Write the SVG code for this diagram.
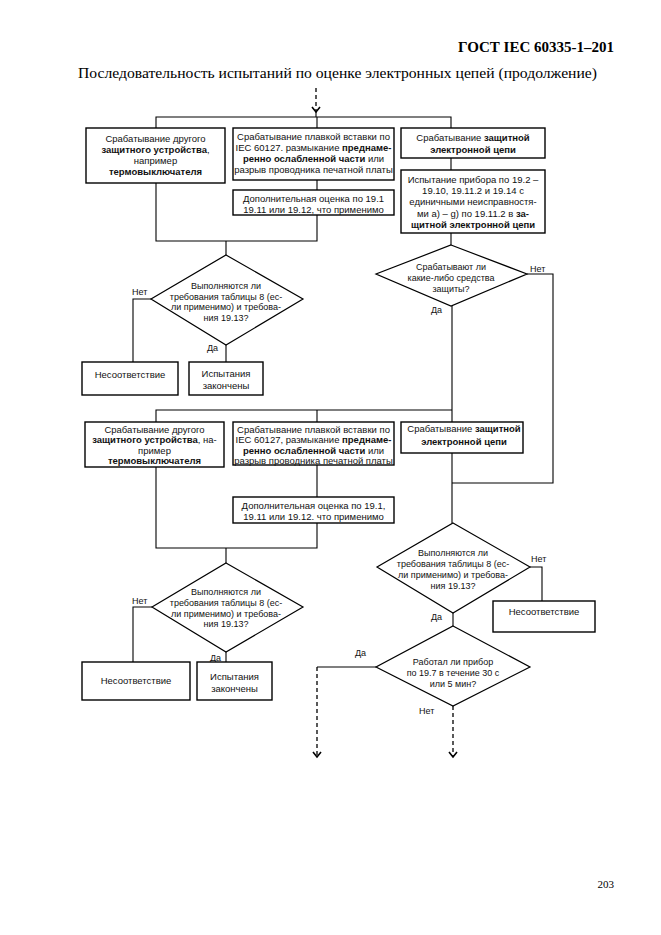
<svg xmlns="http://www.w3.org/2000/svg" width="661" height="935" viewBox="0 0 661 935">
<style>
.bx{fill:#fff;stroke:#000;stroke-width:1.4}
.dm{fill:#fff;stroke:#000;stroke-width:1.2}
.ln{fill:none;stroke:#000;stroke-width:1.1}
.ds{fill:none;stroke:#000;stroke-width:1.3;stroke-dasharray:4 3}
text{font-family:"Liberation Sans",Arial,sans-serif;font-size:9.5px;fill:#111}
.t{text-anchor:middle}
.d{font-size:9px}
.b{font-weight:bold}
.lb{font-size:9px}
.hd{font-family:"Liberation Serif","Times New Roman",serif;fill:#000}
</style>
<defs>
<marker id="ah" viewBox="-7 -6 9 12" markerWidth="9" markerHeight="12" refX="0" refY="0" orient="auto" markerUnits="userSpaceOnUse">
<path d="M-5,-4 L0,0 L-5,4" fill="none" stroke="#000" stroke-width="1.6"/>
</marker>
</defs>
<text class="hd b" x="614" y="52" text-anchor="end" style="font-size:15px;font-weight:bold">ГОСТ IEC 60335-1–201</text>
<text class="hd" x="78" y="78" textLength="519" lengthAdjust="spacingAndGlyphs" style="font-size:14.5px">Последовательность испытаний по оценке электронных цепей (продолжение)</text>
<text class="hd" x="614" y="888" text-anchor="end" style="font-size:11px">203</text>

<g id="connectors">
<path class="ds" d="M316,88 V112" marker-end="url(#ah)"/>
<path class="ln" d="M316,112 V117"/>
<path class="ln" d="M156,128 V117 H451 V128 M317,117 V128"/>
<path class="ln" d="M317,180 V190 M451,158 V170 M451,233 V245"/>
<path class="ln" d="M156,183 V241 H317 V215 M226,241 V255"/>
<path class="ln" d="M151,299 H133 V362 M226,345 V362"/>
<path class="ln" d="M527,274 H553 V483 H452"/>
<path class="ln" d="M452,306 V422 M156,422 V410 H452 M317,410 V422"/>
<path class="ln" d="M317,465 V497 M452,453 V523"/>
<path class="ln" d="M156,467 V548 H317 V523 M226,548 V563"/>
<path class="ln" d="M152,607 H133 V662 M226,652 V662"/>
<path class="ln" d="M530,567 H542 V601 M453,613 V626"/>
<path class="ln" d="M376,667 H317"/>
<path class="ds" d="M317,667 V757" marker-end="url(#ah)"/>
<path class="ds" d="M453,706 V757" marker-end="url(#ah)"/>
</g>

<g id="boxA1">
<rect class="bx" x="86" y="128" width="139" height="55"/>
<text class="t" x="155.5" y="141.5">Срабатывание другого</text>
<text class="t" x="155.5" y="152.5"><tspan class="b">защитного устройства</tspan>,</text>
<text class="t" x="155.5" y="163.5">например</text>
<text class="t b" x="155.5" y="174.5">термовыключателя</text>
</g>
<g id="boxB1">
<rect class="bx" x="233" y="128" width="161" height="52"/>
<text class="t" x="313.5" y="139.5">Срабатывание плавкой вставки по</text>
<text class="t" x="313.5" y="150.5">IEC 60127. размыкание <tspan class="b">преднаме-</tspan></text>
<text class="t" x="313.5" y="161.5"><tspan class="b">ренно ослабленной части</tspan> или</text>
<text class="t" x="313.5" y="173">разрыв проводника печатной платы</text>
</g>
<g id="boxD1">
<rect class="bx" x="233" y="190" width="161" height="25"/>
<text class="t" x="313.5" y="202">Дополнительная оценка по 19.1</text>
<text class="t" x="313.5" y="212.5">19.11 или 19.12, что применимо</text>
</g>
<g id="boxC1">
<rect class="bx" x="401" y="128" width="144" height="30"/>
<text class="t" x="473" y="141">Срабатывание <tspan class="b">защитной</tspan></text>
<text class="t b" x="473" y="152.5">электронной цепи</text>
</g>
<g id="boxE1">
<rect class="bx" x="401" y="170" width="144" height="63"/>
<text class="t" x="473" y="183">Испытание прибора по 19.2 –</text>
<text class="t" x="473" y="194">19.10, 19.11.2 и 19.14 с</text>
<text class="t" x="473" y="205">единичными неисправностя-</text>
<text class="t" x="473" y="216.5">ми a) – g) по 19.11.2 в <tspan class="b">за-</tspan></text>
<text class="t b" x="473" y="228">щитной электронной цепи</text>
</g>
<g id="dec1">
<polygon class="dm" points="226,255 303,299 226,345 151,299"/>
<text class="t d" x="226" y="288.5">Выполняются ли</text>
<text class="t d" x="226" y="299.5">требования таблицы 8 (ес-</text>
<text class="t d" x="226" y="310">ли применимо) и требова-</text>
<text class="t d" x="226" y="320.5">ния 19.13?</text>
<text class="lb" x="132" y="295">Нет</text>
<text class="lb" x="207" y="351">Да</text>
</g>
<g id="dec2">
<polygon class="dm" points="451,245 527,274 451,306 376,274"/>
<text class="t d" x="451" y="270">Срабатывают ли</text>
<text class="t d" x="451" y="281">какие-либо средства</text>
<text class="t d" x="451" y="291.5">защиты?</text>
<text class="lb" x="530" y="272">Нет</text>
<text class="lb" x="431" y="313">Да</text>
</g>
<g id="nc1">
<rect class="bx" x="82" y="362" width="96" height="33"/>
<text class="t" x="130" y="378">Несоответствие</text>
</g>
<g id="end1">
<rect class="bx" x="189" y="362" width="74" height="33"/>
<text class="t" x="226" y="377">Испытания</text>
<text class="t" x="226" y="389">закончены</text>
</g>

<g id="boxA2">
<rect class="bx" x="85" y="422" width="139" height="45"/>
<text class="t" x="154.5" y="432.5">Срабатывание другого</text>
<text class="t" x="154.5" y="443"><tspan class="b">защитного устройства</tspan>, на-</text>
<text class="t" x="154.5" y="453.5">пример</text>
<text class="t b" x="154.5" y="464">термовыключателя</text>
</g>
<g id="boxB2">
<rect class="bx" x="233" y="422" width="161" height="43"/>
<text class="t" x="313.5" y="432.5">Срабатывание плавкой вставки по</text>
<text class="t" x="313.5" y="443">IEC 60127, размыкание <tspan class="b">преднаме-</tspan></text>
<text class="t" x="313.5" y="453.5"><tspan class="b">ренно ослабленной части</tspan> или</text>
<text class="t" x="313.5" y="464">разрыв проводника печатной платы</text>
</g>
<g id="boxD2">
<rect class="bx" x="233" y="497" width="161" height="26"/>
<text class="t" x="313.5" y="509">Дополнительная оценка по 19.1,</text>
<text class="t" x="313.5" y="519.5">19.11 или 19.12. что применимо</text>
</g>
<g id="boxC2">
<rect class="bx" x="401" y="422" width="122" height="31"/>
<text class="t" x="464" y="432">Срабатывание <tspan class="b">защитной</tspan></text>
<text class="t b" x="464" y="444.5">электронной цепи</text>
</g>
<g id="dec3">
<polygon class="dm" points="226,563 303,607 226,652 152,607"/>
<text class="t d" x="226" y="595">Выполняются ли</text>
<text class="t d" x="226" y="605.5">требования таблицы 8 (ес-</text>
<text class="t d" x="226" y="616.5">ли применимо) и требова-</text>
<text class="t d" x="226" y="627">ния 19.13?</text>
<text class="lb" x="132" y="604">Нет</text>
<text class="lb" x="210" y="661">Да</text>
</g>
<g id="nc2">
<rect class="bx" x="82" y="662" width="108" height="38"/>
<text class="t" x="136" y="684">Несоответствие</text>
</g>
<g id="end2">
<rect class="bx" x="197" y="662" width="75" height="38"/>
<text class="t" x="234.5" y="680">Испытания</text>
<text class="t" x="234.5" y="692">закончены</text>
</g>
<g id="dec4">
<polygon class="dm" points="453,523 530,567 453,613 377,567"/>
<text class="t d" x="453" y="556">Выполняются ли</text>
<text class="t d" x="453" y="567">требования таблицы 8 (ес-</text>
<text class="t d" x="453" y="578">ли применимо) и требова-</text>
<text class="t d" x="453" y="589">ния 19.13?</text>
<text class="lb" x="531" y="562">Нет</text>
<text class="lb" x="431" y="620">Да</text>
</g>
<g id="nc3">
<rect class="bx" x="493" y="601" width="102" height="31"/>
<text class="t" x="544" y="615">Несоответствие</text>
</g>
<g id="dec5">
<polygon class="dm" points="453,626 530,667 453,706 376,667"/>
<text class="t d" x="453" y="665">Работал ли прибор</text>
<text class="t d" x="453" y="676">по 19.7 в течение 30 с</text>
<text class="t d" x="453" y="687">или 5 мин?</text>
<text class="lb" x="355" y="656">Да</text>
<text class="lb" x="419" y="714">Нет</text>
</g>
</svg>
